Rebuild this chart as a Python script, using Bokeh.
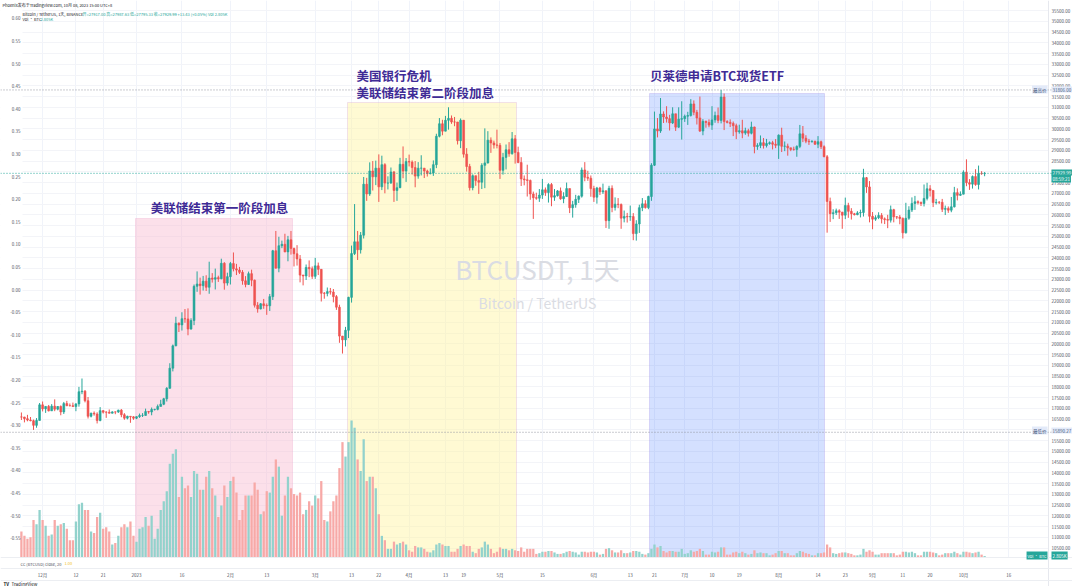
import numpy as np
import pandas as pd
from bokeh.plotting import figure
from bokeh.models import (Range1d, LinearAxis, FixedTicker, Span, Label,
                          BoxAnnotation, ColumnDataSource, NumeralTickFormatter)
from bokeh.embed import file_html
from bokeh.resources import INLINE

# ---------------- data (BTC/USDT daily, Binance) ----------------
first_open = 16603
close_nov = [16598,16522,16458,16428,16212,16442,17164]
high_nov = [16810,16610,16700,16600,16480,16550,17250]
low_nov = [16460,16350,16400,16400,16000,16100,16430]
close_dec = [16978,17092,16885,17105,16966,17088,16836,17224,17128,17127,17085,17209,17775,17803,17356,16633,16777,16739,16438,16896,16824,16822,16778,16837,16832,16919,16706,16547,16633,16607,16542]
high_dec = [17320,17100,17160,17200,17420,17110,17140,17300,17350,17230,17270,17240,18000,18390,17850,17530,16800,16860,16820,17060,16920,16870,16950,16870,16860,16940,16970,16780,16660,16640,16640]
low_dec = [16860,16790,16860,16880,16870,16910,16680,16740,17100,17090,17070,16870,17080,17660,17280,16530,16580,16660,16300,16400,16760,16560,16760,16760,16730,16790,16590,16470,16490,16330,16470]
close_jan = [16617,16673,16674,16851,16832,16951,16955,17092,17196,17446,17934,18869,19909,20959,20880,21170,21161,20688,21086,22676,22784,22707,22917,22632,23060,23010,23079,23031,23744,22827,23125]
high_jan = [16630,16760,16780,16990,16880,17040,16980,17180,17400,17490,17990,19100,19970,21260,21000,21470,21620,21650,21190,22760,23370,23080,23160,23190,23820,23290,23500,23170,23960,23800,23310]
low_jan = [16500,16560,16600,16660,16750,16680,16900,16910,17100,17150,17320,17910,18720,19890,20550,20620,20980,20400,20660,20870,22420,22290,22480,22460,22330,22850,22530,22880,23000,22520,22710]
close_feb = [23732,23488,23431,23327,22933,22763,23265,22962,21797,21626,21862,21783,21772,22197,24329,23520,24565,24631,24277,24840,24439,24189,23947,23198,23157,23554,23493,23141]
high_feb = [23810,24250,23720,23580,23430,23150,23360,23450,22990,21940,21900,22090,21880,22320,24370,25250,24980,24800,25120,25020,25250,24470,24590,24130,23210,23690,23880,23600]
low_feb = [22760,23370,23200,23250,22750,22630,22740,22680,21690,21450,21600,21630,21350,21530,22040,23500,23330,24450,24260,23840,24150,23600,23640,22860,22720,22970,23100,23020]
close_mar = [23628,23466,22354,22346,22430,22409,22195,21705,20363,20187,20632,22163,24197,24746,24375,25053,27424,26970,28039,27767,28170,27300,28333,27476,27480,27992,27132,27261,28350,28032,28478]
high_mar = [24000,23780,23480,22410,22620,22600,22550,22270,21820,20370,20790,22190,24570,26500,25250,25200,27760,27720,28440,28500,28520,28810,28750,28400,27790,28200,28040,27500,28650,29180,28640]
low_mar = [23020,23200,21970,22100,22210,22290,21930,21580,20050,19550,19880,20270,21920,24130,23900,24200,24900,26650,26880,27130,27380,26600,27150,27000,27180,27440,26600,26650,27240,27700,27530]
close_apr = [28452,28198,27800,28168,28170,28037,27919,27950,28333,29652,30235,29891,30395,30485,30318,30315,29445,30397,28822,28246,27263,27817,27591,27514,28300,28415,29473,29341,29248,29233]
high_apr = [28800,28530,28500,28450,28770,28180,28100,28160,28530,29770,30500,30420,30600,31000,30620,30550,30320,30480,30410,29100,28370,27880,27820,28000,28400,30020,29890,29600,29450,29960]
low_apr = [28250,27870,27280,27680,27830,27710,27780,27880,27810,28170,29600,29700,29880,29960,30230,30120,29270,29100,28660,28010,27130,27140,27350,26970,27200,27240,28380,28880,29080,29090]
close_may = [28068,28670,29026,28838,29532,28900,28430,27668,27628,27598,26969,26795,26775,26917,27162,27033,27405,26822,26890,27113,26747,26849,27219,26329,26474,26719,26868,28085,27745,27702,27219]
high_may = [29340,28880,29270,29380,29850,29710,29170,28680,27830,28330,27640,27080,27030,27200,27670,27270,27470,27480,27200,27150,27270,27050,27500,27220,26650,26930,26900,28200,28450,28050,27830]
low_may = [27670,27870,28110,28700,28800,28380,28400,27340,27370,26850,26700,25810,26700,26600,26740,26880,26570,26400,26650,26850,26700,26540,26830,26080,25870,26330,26550,26800,27560,27580,26840]
close_jun = [26819,27249,27069,27116,25729,27231,26342,26497,26478,25846,25926,25904,25918,25127,25576,26332,26510,26336,26851,28307,29994,29896,30688,30548,30470,30271,30697,30077,30446,30472]
high_jun = [27350,27300,27300,27450,27130,27350,27370,26810,26780,26530,26200,26090,26430,26080,25750,26470,26780,26680,26890,28400,30800,30500,31430,30810,31050,30650,31000,30700,31000,31280]
low_jun = [26600,26520,26920,26970,25390,25350,26120,26200,26310,25350,25650,25640,25720,24820,24800,25160,26170,26290,26260,26650,28270,29600,29810,30270,30290,29920,30220,29900,30040,29500]
close_jul = [30585,30617,31156,30767,30504,29895,30346,30292,30171,30414,30620,30391,31477,30335,30297,30249,30145,29857,29909,29801,29908,29794,30083,29176,29228,29354,29223,29314,29352,29281,29232]
high_jul = [30660,30790,31380,31320,30880,31500,30450,30380,30440,31050,30800,30990,31806,31640,30400,30440,30340,30240,30190,30420,30050,30000,30330,30100,29330,29690,29570,29530,29410,29440,29520]
low_jul = [30320,30180,30570,30630,30200,29850,29700,30050,30070,29950,30280,30260,30250,29940,30250,30080,29660,29520,29770,29560,29720,29640,29740,28860,29020,29100,29080,29130,29260,29040,29100]
close_aug = [29705,29186,29194,29114,29043,29039,29180,29766,29563,29425,29397,29416,29283,29400,29170,28700,26623,26054,26100,26189,26124,25985,26432,26163,26049,26008,26089,26106,27727,27297,25931]
high_aug = [29740,30050,29410,29310,29120,29170,29230,30180,30130,29700,29530,29470,29450,29660,29450,29230,28780,26800,26260,26290,26260,26140,26800,26560,26310,26090,26170,26240,28140,27760,27570]
low_aug = [28600,28920,28960,28750,28960,28980,28700,29100,29380,29330,29250,29360,29250,29100,29060,28680,25170,25670,25800,25990,25810,25350,25800,25860,25780,25970,25980,25880,25920,27020,25650]
close_sep = [25800,25869,25969,25812,25779,25753,26240,25905,25895,25832,25162,25840,26222,26530,26608,26568,26527,26762,27211,27133,26568,26580,26579,26256,26298,26217,26372,27031,26906,26962]
high_sep = [26130,25980,26120,26080,25880,26000,26430,26280,25940,25990,25880,26560,26400,26810,26880,26670,26620,27410,27490,27380,27150,26740,26640,26740,26430,26390,26830,27300,27230,27090]
low_sep = [25330,25720,25800,25600,25570,25380,25640,25650,25800,25560,24900,25130,25770,26130,26230,26480,26410,26390,26670,26850,26360,26480,26500,26130,25990,26090,26120,26340,26670,26880]
close_oct = [27983,27495,27426,27779,27410,27932,27917,27930]
high_oct = [28070,28580,27660,27830,28120,28290,28030,27988]
low_oct = [26950,27330,27160,27220,27350,27180,27860,27795]

# volume, thousand BTC
vol_nov = [180,150,130,140,260,230,330]
vol_dec = [260,220,150,160,260,220,230,240,200,120,120,250,370,380,330,330,180,170,280,310,200,210,180,90,100,150,210,230,210,250,150]
vol_jan = [110,200,210,280,220,290,130,200,330,390,460,650,720,750,420,560,480,500,420,600,580,470,470,560,600,480,430,280,360,500,420]
vol_feb = [530,560,450,260,330,430,430,430,520,470,300,320,460,450,560,680,630,290,430,560,480,440,430,450,300,330,390,360]
vol_mar = [430,410,530,260,250,320,390,430,620,800,700,800,950,900,680,600,820,530,560,560,480,300,150,120,60,60,110,90,100,110,90]
vol_apr = [50,40,80,70,70,60,40,35,50,90,100,90,80,80,40,40,60,80,90,80,80,40,30,60,70,110,90,60,30,40]
vol_may = [70,60,60,50,60,50,45,70,40,60,60,60,25,30,40,40,45,45,35,25,25,30,40,45,40,35,20,40,40,35,40]
vol_jun = [40,35,20,25,60,65,50,35,35,50,30,30,35,45,45,40,25,20,30,60,90,70,80,45,35,45,45,40,40,60]
vol_jul = [25,30,50,40,45,60,45,20,20,40,35,40,70,70,20,20,35,40,30,40,30,20,25,50,30,35,30,30,15,20,30]
vol_aug = [45,45,30,30,15,15,30,45,40,30,25,15,15,30,30,35,90,70,30,25,30,35,35,30,25,15,15,20,60,40,50]
vol_sep = [40,20,20,30,30,30,30,30,15,20,40,40,35,40,30,15,15,40,40,40,35,30,15,20,30,30,30,40,30,20]
vol_oct = [40,40,35,30,35,40,20,10]

tick_dates = ["2022-12-01","2022-12-12","2022-12-21","2023-01-01","2023-01-16","2023-02-01",
              "2023-02-13","2023-03-01","2023-03-13","2023-03-22","2023-04-01","2023-04-13",
              "2023-04-19","2023-05-01","2023-05-15","2023-06-01","2023-06-13","2023-06-21",
              "2023-07-01","2023-07-10","2023-07-19","2023-08-01","2023-08-14","2023-08-23",
              "2023-09-01","2023-09-11","2023-09-20","2023-10-01","2023-10-16"]
tick_labels = ["12月","12","21","2023","16","2月","13","3月","13","22","4月","13","19","5月","15",
               "6月","13","21","7月","10","19","8月","14","23","9月","11","20","10月","16"]

high_mark = 31806.00
low_mark = 15890.27
last_price = 27929.99

# ---------------- assemble ----------------
closes = np.array(close_nov+close_dec+close_jan+close_feb+close_mar+close_apr+close_may+close_jun+close_jul+close_aug+close_sep+close_oct, float)
highs = np.array(high_nov+high_dec+high_jan+high_feb+high_mar+high_apr+high_may+high_jun+high_jul+high_aug+high_sep+high_oct, float)
lows = np.array(low_nov+low_dec+low_jan+low_feb+low_mar+low_apr+low_may+low_jun+low_jul+low_aug+low_sep+low_oct, float)
vols = np.array(vol_nov+vol_dec+vol_jan+vol_feb+vol_mar+vol_apr+vol_may+vol_jun+vol_jul+vol_aug+vol_sep+vol_oct, float)
dates = pd.date_range("2022-11-24", "2023-10-08", freq="D")
base = pd.Timestamp("2023-01-01")
xs = np.array((dates - base).days, float)
n = len(xs)
assert len(closes) == n and len(highs) == n and len(lows) == n and len(vols) == n
opens = np.concatenate([[first_open], closes[:-1]])
highs = np.maximum(highs, np.maximum(opens, closes))
lows = np.minimum(lows, np.minimum(opens, closes))
up = closes >= opens
UP, DN = "#26a69a", "#ef5350"
src = ColumnDataSource(dict(
    x=xs, top=np.maximum(opens, closes), bottom=np.minimum(opens, closes),
    high=highs, low=lows, vol=vols,
    color=[UP if u else DN for u in up],
    vcolor=["#92d2cc" if u else "#f7a9a7" for u in up],
))
tick_x = [int((pd.Timestamp(d) - base).days) for d in tick_dates]

# canvas pixel -> data helpers (layout only)
PX0, PXD = 136.0, 3.029          # x of 2023-01-01, px per day
PY0, PYK = 10.0, 0.021508        # y of 35500, px per USDT
def dx(px):
    return (px - PX0) / PXD
def dy(py):
    return 35500 - (py - PY0) / PYK

W, H = 1072, 586                      # canvas = frame
PANE_L, PANE_R, PANE_B = 22, 1048, 557
VK = 137.0 / 950.0                    # px per thousand BTC
p = figure(frame_width=W, frame_height=H,
           x_range=Range1d(dx(0), dx(W)), y_range=Range1d(dy(H), dy(0)),
           y_axis_location="right", output_backend="svg", toolbar_location=None,
           min_border_left=0, min_border_right=0, min_border_top=0, min_border_bottom=0,
           background_fill_color="white", border_fill_color="white")
p.outline_line_color = None
p.extra_y_ranges = {"vol": Range1d(-(H - PANE_B) / VK, PANE_B / VK),
                    "cc": Range1d((289 - H) / 452.0, 289 / 452.0)}

FONT = "Noto Sans CJK SC"
ya = p.yaxis[0]
ya.fixed_location = dx(PANE_R)
ya.ticker = FixedTicker(ticks=list(range(10500, 36000, 500)))
ya.formatter = NumeralTickFormatter(format="0.00")
cc_axis = LinearAxis(y_range_name="cc", fixed_location=dx(PANE_L),
                     ticker=FixedTicker(ticks=[round(-0.55 + 0.05 * i, 2) for i in range(24)]),
                     formatter=NumeralTickFormatter(format="0.00"))
p.add_layout(cc_axis, "left")
xa = p.xaxis[0]
xa.fixed_location = dy(PANE_B)
xa.ticker = FixedTicker(ticks=tick_x)
xa.major_label_overrides = {t: l for t, l in zip(tick_x, tick_labels)}
for ax in [ya, cc_axis, xa]:
    ax.axis_line_color = None
    ax.major_tick_line_color = None
    ax.minor_tick_line_color = None
    ax.major_tick_out = 0
    ax.major_tick_in = 0
    ax.minor_tick_out = 0
    ax.minor_tick_in = 0
    ax.major_label_text_font = FONT
    ax.major_label_text_font_size = "4.5px"
    ax.major_label_text_color = "#50535e"
ya.major_label_standoff = 3
cc_axis.major_label_standoff = 2
xa.major_label_standoff = 14

p.xgrid.ticker = FixedTicker(ticks=tick_x)
p.xgrid.grid_line_color = "#f0f3fa"
p.ygrid.ticker = FixedTicker(ticks=list(range(10500, 36000, 500)))
p.ygrid.grid_line_color = "#f3f4f8"

# blank the scale strips and the time strip (keeps grid inside the pane)
for kw in [dict(left=dx(PANE_R)), dict(right=dx(PANE_L)), dict(top=dy(PANE_B))]:
    p.add_layout(BoxAnnotation(fill_color="white", fill_alpha=1, line_color=None,
                               level="underlay", **kw))

# highlight boxes
boxes = [
    (dx(135), dx(292), dy(218), "#f8bbd0", 0.45, "#eaa2c6"),
    (dx(347), dx(516), dy(102), "#fff59d", 0.45, "#d3a3dd"),
    (dx(649), dx(824), dy(93), "#2962ff", 0.2, "#a493e8"),
]
for l, r, t, fc, fa, lc in boxes:
    p.add_layout(BoxAnnotation(left=l, right=r, top=t, bottom=dy(PANE_B), fill_color=fc,
                               fill_alpha=fa, line_color=lc, line_width=1, level="underlay"))

# watermark
p.add_layout(Label(x=dx(537), y=dy(268), text="BTCUSDT, 1天", text_align="center",
                   text_baseline="middle", text_font=FONT, text_font_size="26px",
                   text_color="#dadce3", level="underlay"))
p.add_layout(Label(x=dx(537), y=dy(302), text="Bitcoin / TetherUS", text_align="center",
                   text_baseline="middle", text_font=FONT, text_font_size="14px",
                   text_color="#dadce3", level="underlay"))

# volume
p.vbar(x="x", width=0.75, top="vol", bottom=0, y_range_name="vol",
       fill_color="vcolor", line_color=None, source=src)
# candles
p.segment(x0="x", y0="low", x1="x", y1="high", line_color="color", line_width=1, source=src)
p.vbar(x="x", width=0.62, top="top", bottom="bottom", fill_color="color",
       line_color="color", line_width=0.6, source=src)

# separators
p.add_layout(Span(location=dx(PANE_R), dimension="height", line_color="#e6e8ee", line_width=1))
p.add_layout(Span(location=dy(568), dimension="width", line_color="#eceef2", line_width=1))
p.add_layout(Span(location=dy(580), dimension="width", line_color="#eceef2", line_width=1))
p.add_layout(Span(location=dy(PANE_B), dimension="width", line_color="#eceef2", line_width=1))

# price lines
p.add_layout(Span(location=high_mark, dimension="width", line_color="#9598a1",
                  line_dash="1 2", line_width=1))
p.add_layout(Span(location=low_mark, dimension="width", line_color="#9598a1",
                  line_dash="1 2", line_width=1))
p.add_layout(Span(location=last_price, dimension="width", line_color="#26a69a",
                  line_dash="1 2", line_width=1))

TITLE = "#3f2b96"
def title(x, y, text, align):
    p.add_layout(Label(x=x, y=y, text=text, text_align=align, text_baseline="middle",
                       text_font=FONT, text_font_style="bold", text_font_size="12.5px",
                       text_color=TITLE))
title(dx(219), dy(207), "美联储结束第一阶段加息", "center")
title(dx(356), dy(75), "美国银行危机", "left")
title(dx(356), dy(91.5), "美联储结束第二阶段加息", "left")
title(dx(649.5), dy(75), "贝莱德申请BTC现货ETF", "left")

def small(px, py, text, color, size="4px", align="left", bg=None, style="normal"):
    kw = {}
    if bg is not None:
        kw = dict(background_fill_color=bg, padding=1)
    p.add_layout(Label(x=dx(px), y=dy(py), text=text, text_align=align, text_baseline="middle",
                       text_font=FONT, text_font_size=size, text_color=color,
                       text_font_style=style, **kw))

small(2, 4, "Phoenix发布于TradingView.com, 10月 08, 2023 15:00 UTC+8", "#131722")
small(22, 13, "Bitcoin / TetherUS, 1天, BINANCE", "#131722")
small(82, 13, "开=27917.00 高=27987.63 低=27795.33 收=27929.99 +13.43 (+0.05%) Vol 2.805K", "#26a69a")
small(22, 18, "Vol · BTC", "#131722")
small(40, 18, "2.805K", "#26a69a")

# right-scale tags
small(1047, 89, "最高价", "#4c5d80", "4.5px", align="right", bg="#e3eaf9")
small(1051, 89, "31806.00", "#4c5d80", "4.5px", bg="#e3eaf9")
small(1047, 430, "最低价", "#4c5d80", "4.5px", align="right", bg="#e3eaf9")
small(1051, 430, "15890.27", "#4c5d80", "4.5px", bg="#e3eaf9")
small(1051, 172, "27929.99", "white", "4.5px", bg="#26a69a")
small(1051, 178, "08:59:21", "white", "4.5px", bg="#26a69a")
small(1047, 555, "Vol · BTC", "white", "4px", align="right", bg="#26a69a")
small(1051, 555, "2.805K", "white", "4.5px", bg="#26a69a")

# indicator caption under the pane, and the logo line
small(20, 563, "CC (BTCUSD) close, 20", "#50535e", "4px")
small(64, 563, "1.00", "#f2c21b", "4px")
small(3, 583, "TV", "#131722", "4.5px", style="bold")
small(11, 583, "TradingView", "#131722", "4.5px")

open("out.html", "w").write(file_html(p, INLINE))
